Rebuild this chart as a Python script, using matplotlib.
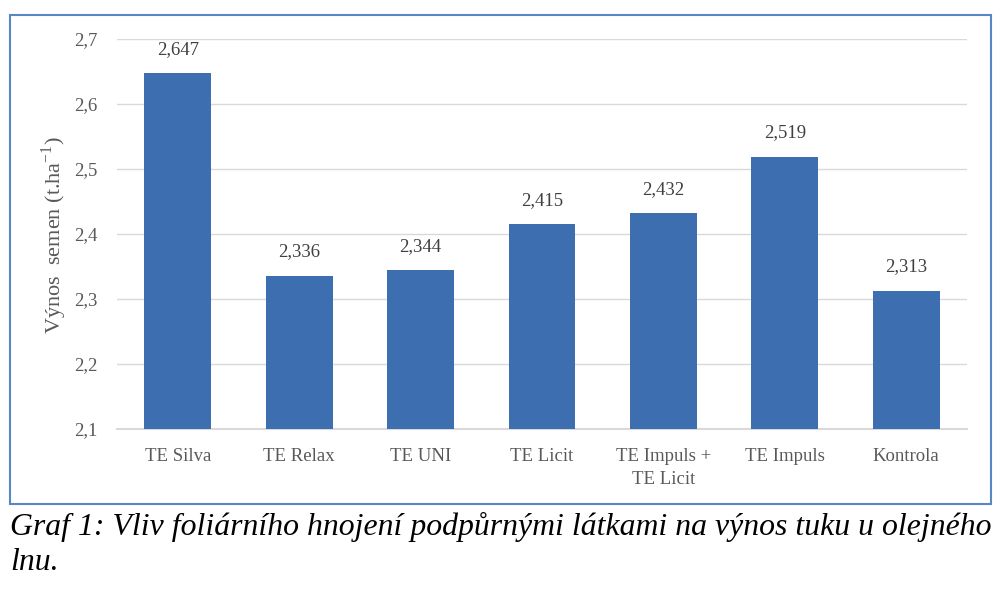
import matplotlib
matplotlib.use("Agg")
import matplotlib.pyplot as plt
from matplotlib.patches import Rectangle

categories = ["TE Silva", "TE Relax", "TE UNI", "TE Licit", "TE Impuls +\nTE Licit", "TE Impuls", "Kontrola"]
values = [2.647, 2.336, 2.344, 2.415, 2.432, 2.519, 2.313]
yticks = [2.1, 2.2, 2.3, 2.4, 2.5, 2.6, 2.7]

W, H = 1000, 589
fig = plt.figure(figsize=(W/100, H/100), dpi=100)
fig.patch.set_facecolor("white")

ax = fig.add_axes([117/W, 1-429/H, (967-117)/W, (429-39)/H])
x = range(len(categories))
ax.bar(x, [v - 2.1 for v in values], bottom=2.1, width=0.55, color="#3d6eb0", zorder=3)
ax.set_xlim(-0.5, len(categories)-0.5)
ax.set_ylim(2.1, 2.7)
ax.set_yticks(yticks)
ax.set_yticklabels([f"{t:.1f}".replace(".", ",") for t in yticks])
ax.set_xticks(list(x))
ax.set_xticklabels(categories)
ax.grid(axis="y", color="#d9d9d9", linewidth=1, zorder=0)
ax.axhline(yticks[0], color="#d9d9d9", linewidth=1.5, zorder=2, clip_on=False)
for s in ax.spines.values():
    s.set_visible(False)
ax.tick_params(length=0, labelsize=13.5, labelcolor="#595959")
ax.tick_params(axis="y", pad=14)
ax.tick_params(axis="x", pad=14)
for lab in ax.get_xticklabels() + ax.get_yticklabels():
    lab.set_family("Liberation Serif")
    lab.set_linespacing(1.45)

for xi, v in zip(x, values):
    ax.annotate(f"{v:.3f}".replace(".", ","), (xi, v), xytext=(0, 11), textcoords="offset points",
                ha="center", va="bottom", fontsize=13.5, color="#404040", family="Liberation Serif")

fig.text(54/W, 1-235/H, "Výnos  semen (t.ha$^{\\mathregular{-1}}$)", rotation=90, ha="center", va="center",
         fontsize=16, color="#595959", family="Liberation Serif")

fig.patches.append(Rectangle((10/W, 1-504/H), (991-10)/W, (504-15)/H, transform=fig.transFigure,
                             fill=False, edgecolor="#5a86c5", linewidth=1.5))

fig.text(10/W, 1-527/H, "Graf 1: Vliv foliárního hnojení podpůrnými látkami na výnos tuku u olejného",
         ha="left", va="center", fontsize=22.9, style="italic", family="Liberation Serif", color="black")
fig.text(10/W, 1-563/H, "lnu.", ha="left", va="center", fontsize=22.9, style="italic",
         family="Liberation Serif", color="black")

fig.savefig("out.png", dpi=100)
